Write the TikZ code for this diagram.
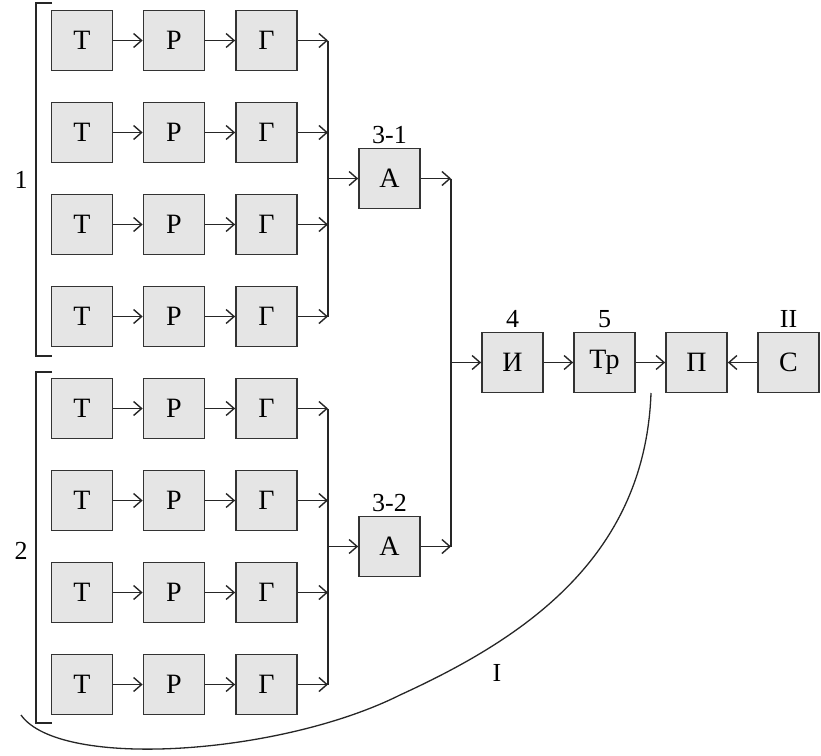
\documentclass[tikz,border=0pt]{standalone}
\usepackage{fontspec}
\setmainfont{Liberation Serif}
\usetikzlibrary{arrows.meta}
\begin{document}
\begin{tikzpicture}[x=1pt,y=-1pt,
  blk/.style={draw=black!80,fill=black!10,line width=1.7pt,minimum width=61pt,minimum height=60pt,inner sep=0pt,font=\fontsize{28}{32}\selectfont},
  lbl/.style={inner sep=0pt,font=\fontsize{26}{30}\selectfont},
  ln/.style={draw=black!85,line width=1.4pt},
  arr/.style={ln,-{Straight Barb[length=8pt,width=14pt,line width=1.4pt]}}]
\useasboundingbox (0,0) rectangle (821,755);
% top group
\foreach \r/\y in {1/40.5,2/132.5,3/224.5,4/316.5}{
  \node[blk] (t1\r) at (82,\y) {Т};
  \node[blk] (p1\r) at (174,\y) {Р};
  \node[blk] (g1\r) at (266.5,\y) {Г};
  \coordinate (b1\r) at (328,\y);
  \draw[arr] (t1\r) -- (p1\r);
  \draw[arr] (p1\r) -- (g1\r);
  \draw[arr] (g1\r) -- (b1\r);
}
\foreach \r/\y in {1/408.5,2/500.5,3/592.5,4/684.5}{
  \node[blk] (t2\r) at (82,\y) {Т};
  \node[blk] (p2\r) at (174,\y) {Р};
  \node[blk] (g2\r) at (266.5,\y) {Г};
  \coordinate (b2\r) at (328,\y);
  \draw[arr] (t2\r) -- (p2\r);
  \draw[arr] (p2\r) -- (g2\r);
  \draw[arr] (g2\r) -- (b2\r);
}
\draw[ln] (b11) -- (b14);
\draw[ln] (b21) -- (b24);
% adders
\node[blk] (a1) at (389.5,178.5) {А};
\node[blk] (a2) at (389.5,546.5) {А};
\node[lbl,anchor=south] (l31) at ([yshift=4pt]a1.north) {3-1};
\node[lbl,anchor=south] (l32) at ([yshift=4pt]a2.north) {3-2};
\coordinate (m1) at (328,178.5);
\coordinate (m2) at (328,546.5);
\draw[arr] (m1) -- (a1);
\draw[arr] (m2) -- (a2);
\coordinate (c1) at (451,178.5);
\coordinate (c2) at (451,546.5);
\draw[arr] (a1) -- (c1);
\draw[arr] (a2) -- (c2);
\draw[ln] (c1) -- (c2);
% main chain
\node[blk] (i) at (512.5,362.5) {И};
\node[blk] (tr) at (604.5,362.5) {Тр};
\node[blk] (pp) at (696.5,362.5) {П};
\node[blk] (s) at (788.5,362.5) {С};
\node[lbl,anchor=south] (l4) at ([yshift=4pt]i.north) {4};
\node[lbl,anchor=south] (l5) at ([yshift=4pt]tr.north) {5};
\node[lbl,anchor=south] (l2) at ([yshift=4pt]s.north) {II};
\coordinate (ci) at (451,362.5);
\draw[arr] (ci) -- (i);
\draw[arr] (i) -- (tr);
\draw[arr] (tr) -- (pp);
\draw[arr] (s) -- (pp);
% brackets
\draw[ln] (52,3) -- (36,3) -- (36,356) -- (52,356);
\draw[ln] (52,372) -- (36,372) -- (36,723) -- (52,723);
\node[lbl] (n1) at (21,180) {1};
\node[lbl] (n2) at (21,551) {2};
% curve I
\coordinate (cs) at (651,393);
\coordinate (ce) at (21,715);
\draw[ln,line width=1.3pt] (cs) .. controls (645,560) and (520,640) .. (400,695)
  .. controls (280,755) and (60,770) .. (ce);
\node[lbl] (nI) at (497,673) {I};
\end{tikzpicture}
\end{document}
